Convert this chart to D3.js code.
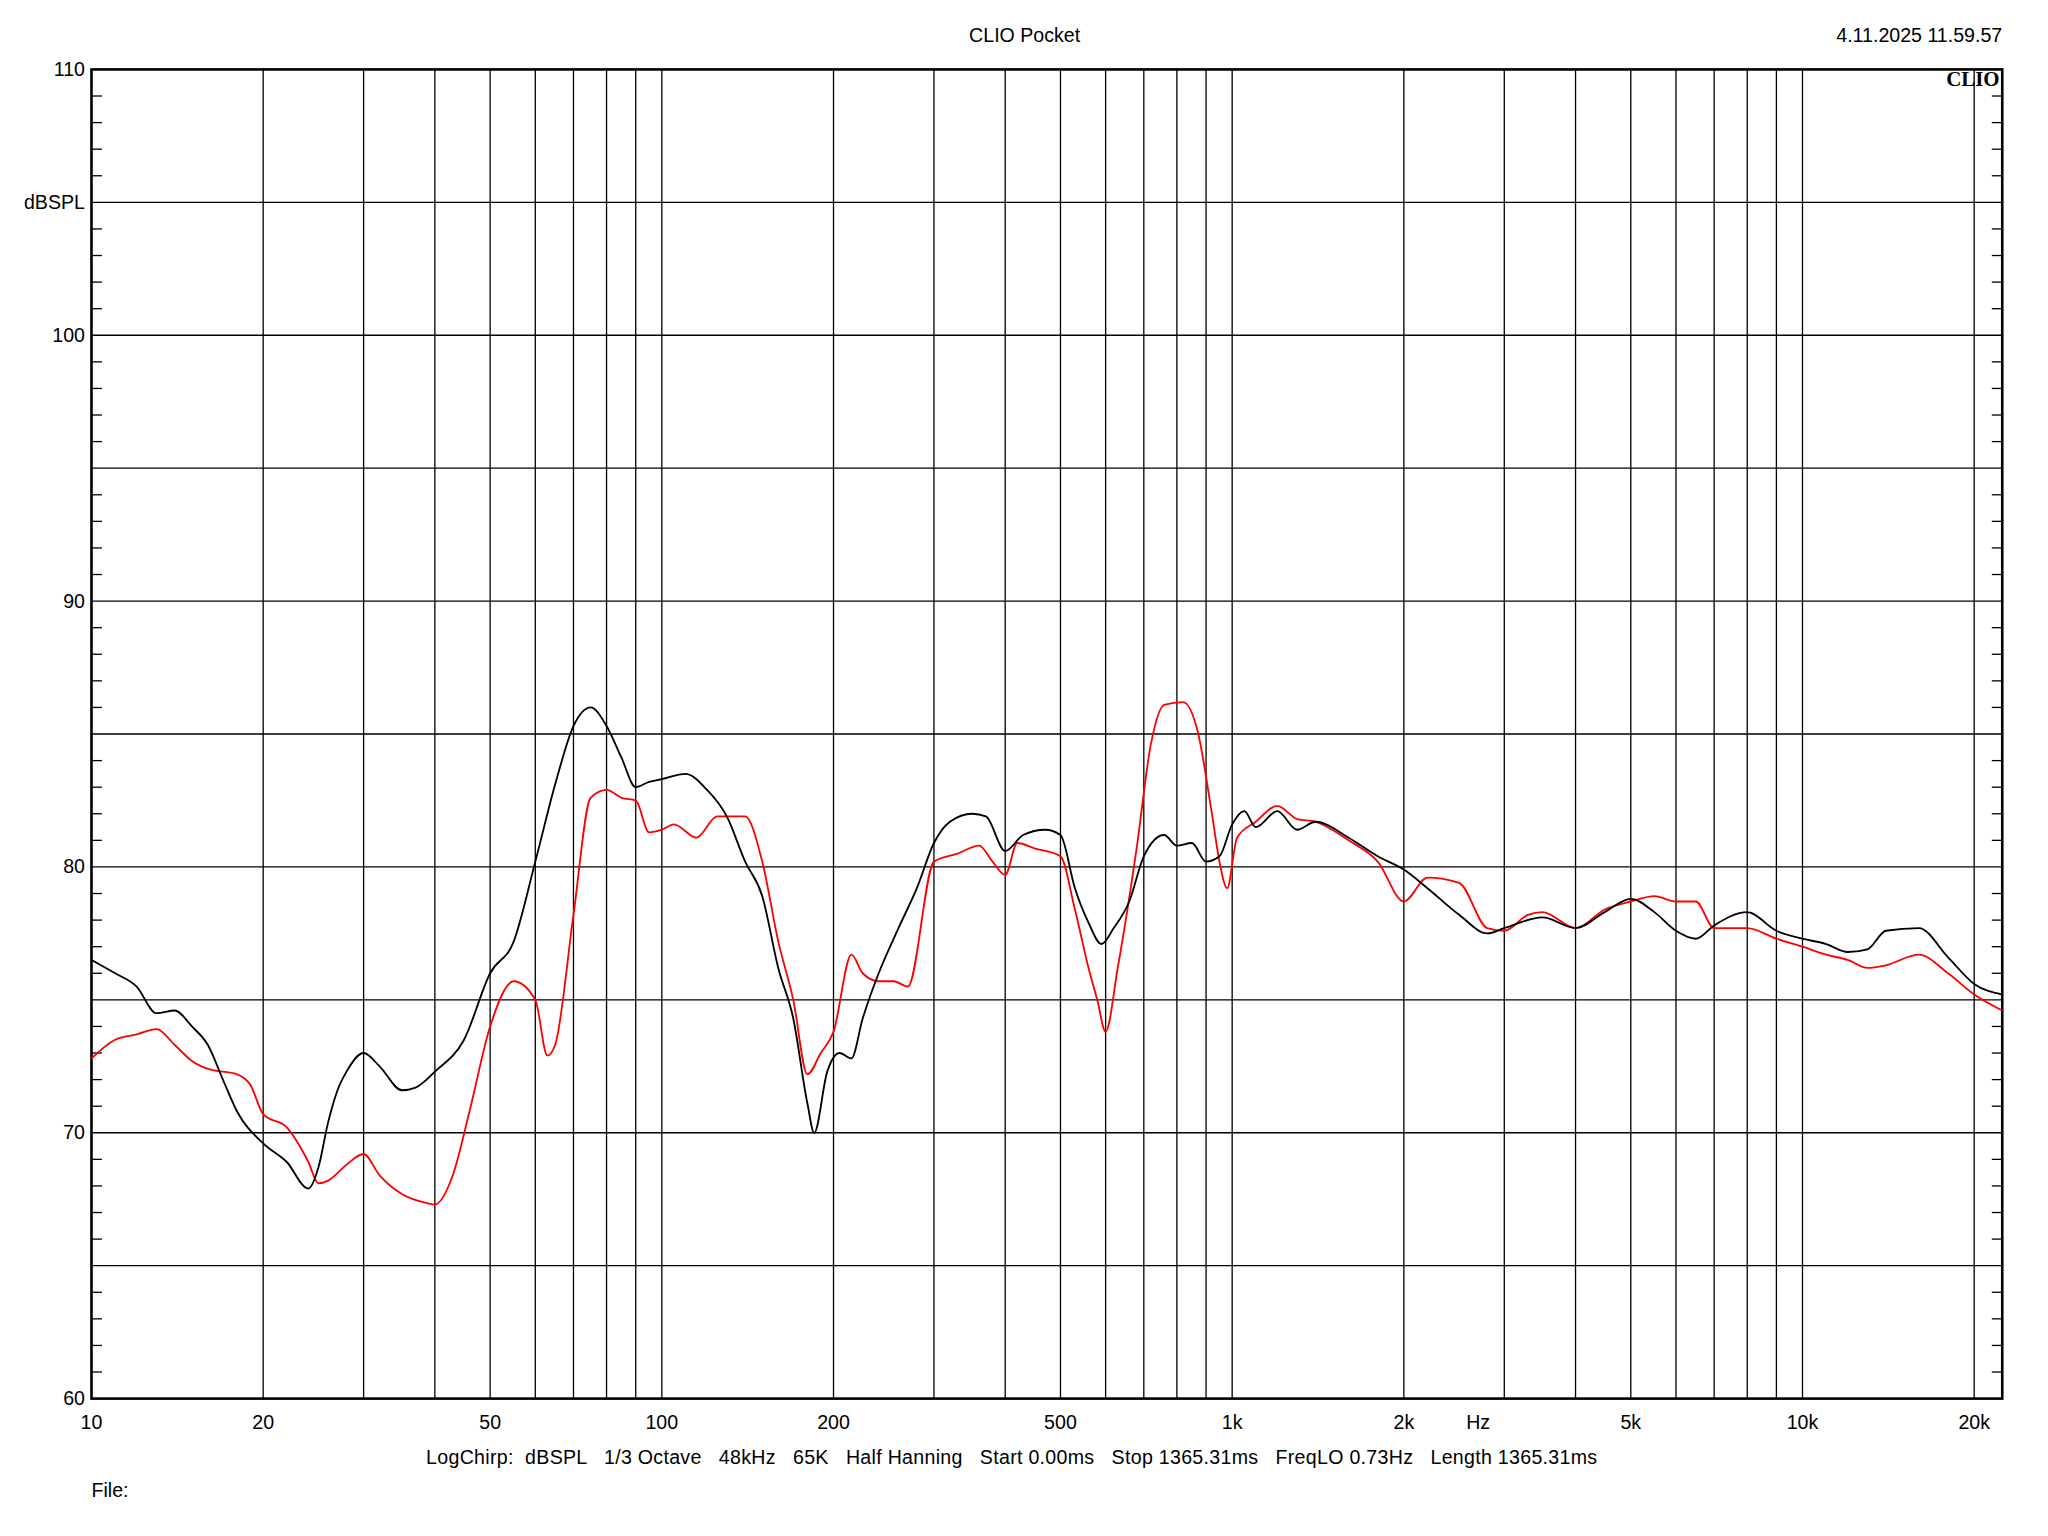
<!DOCTYPE html>
<html><head><meta charset="utf-8">
<script src="https://cdn.jsdelivr.net/npm/d3@7"></script>
<style>body{margin:0;background:#fff}text{font-family:"Liberation Sans",Arial,sans-serif;fill:#000}</style>
</head><body>
<svg id="chart" width="2048" height="1536" viewBox="0 0 1567 1175"></svg>
<script>
const blackF = [10,11,12,13,14,15,16,17,18,20,22,24,25,26,27,28,30,32,35,37,40,45,50,55,60,65,70,75,80,85,90,95,100,110,120,130,140,150,160,170,180,185,195,205,215,225,240,260,280,300,320,350,370,400,430,470,500,530,560,590,620,660,700,760,800,850,900,950,1000,1050,1100,1200,1300,1400,1600,1800,2000,2200,2500,2800,3000,3500,4000,4500,5000,5500,6000,6500,7000,8000,9000,10000,11000,12000,13000,14000,16000,18000,20000,22400];
const blackDb = [76.5,76.0,75.5,74.5,74.6,74.0,73.3,72.0,70.8,69.6,68.9,67.9,68.7,70.4,71.6,72.3,73.0,72.5,71.6,71.7,72.3,73.5,76.0,77.2,80.2,83.1,85.3,86.0,85.3,84.1,83.0,83.2,83.3,83.5,82.9,81.9,80.2,78.9,76.2,74.3,71.1,70.0,72.3,73.0,72.8,74.3,76.0,77.7,79.2,80.9,81.7,82.0,81.9,80.6,81.2,81.4,81.2,79.2,77.9,77.1,77.7,78.7,80.4,81.2,80.8,80.9,80.2,80.4,81.6,82.1,81.5,82.1,81.4,81.7,81.1,80.4,79.9,79.2,78.2,77.5,77.7,78.1,77.7,78.3,78.8,78.3,77.6,77.3,77.8,78.3,77.6,77.3,77.1,76.8,76.9,77.6,77.7,76.6,75.6,75.2];
const redF = [10,11,12,13,14,15,16,18,19,20,22,24,25,26,28,30,32,35,38,40,43,46,50,55,60,63,65,70,75,80,85,90,95,100,105,115,125,140,150,160,170,180,190,200,215,225,240,255,270,300,330,360,380,400,420,450,500,530,560,580,600,630,680,720,760,820,870,920,950,980,1020,1100,1200,1300,1400,1600,1800,2000,2200,2500,2800,3000,3300,3500,4000,4500,5000,5500,6000,6500,7000,8000,9000,10000,11000,12000,13000,14000,16000,18000,20000,22400];
const redDb = [72.8,73.5,73.7,73.9,73.3,72.7,72.4,72.2,71.8,70.7,70.2,68.9,68.1,68.2,68.8,69.2,68.4,67.7,67.4,67.3,68.4,70.8,74.0,75.7,75.0,72.9,73.3,78.2,82.6,82.9,82.6,82.5,81.3,81.4,81.6,81.1,81.9,81.9,80.2,77.2,75.0,72.2,73.0,73.8,76.7,76.0,75.7,75.7,75.5,80.2,80.5,80.8,80.2,79.7,80.9,80.7,80.4,78.4,76.2,75.0,73.8,76.2,80.7,84.6,86.1,86.2,85.1,82.1,80.2,79.2,81.1,81.7,82.3,81.8,81.7,81.0,80.2,78.7,79.6,79.4,77.7,77.6,78.2,78.3,77.7,78.4,78.7,78.9,78.7,78.7,77.7,77.7,77.3,77.0,76.7,76.5,76.2,76.3,76.7,76.0,75.2,74.6];
const xTickVals = [10,20,50,100,200,500,1000,2000,5000,10000,20000];
const xTickLabels = ["10","20","50","100","200","500","1k","2k","5k","10k","20k"];
const yLabelVals = [60,70,80,90,100,110];

const svg = d3.select("#chart");
const L = 70, R = 1532, T = 53, B = 1070;
const x = d3.scaleLog().domain([10, 22400]).range([L, R]);
const y = d3.scaleLinear().domain([60, 110]).range([B, T]);

// vertical grid: 2..10 in each decade
const vGrid = [];
[10,100,1000,10000].forEach(d => { for (let k = 2; k <= 10; k++) if (d*k < 22400) vGrid.push(d*k); });
svg.selectAll(".vg").data(vGrid).enter().append("line")
  .attr("x1", d => x(d)).attr("x2", d => x(d)).attr("y1", T).attr("y2", B)
  .attr("stroke", "#000").attr("stroke-width", 1);
svg.selectAll(".hg").data(d3.range(65, 110, 5)).enter().append("line")
  .attr("x1", L).attr("x2", R).attr("y1", d => y(d)).attr("y2", d => y(d))
  .attr("stroke", "#000").attr("stroke-width", 1);
// 1 dB ticks on both sides
const minor = d3.range(61, 110).filter(d => d % 5 !== 0);
svg.selectAll(".tl").data(minor).enter().append("line")
  .attr("x1", L).attr("x2", L + 8).attr("y1", d => y(d)).attr("y2", d => y(d)).attr("stroke", "#000");
svg.selectAll(".tr").data(minor).enter().append("line")
  .attr("x1", R - 8).attr("x2", R).attr("y1", d => y(d)).attr("y2", d => y(d)).attr("stroke", "#000");

svg.append("rect").attr("x", L).attr("y", T).attr("width", R - L).attr("height", B - T)
  .attr("fill", "none").attr("stroke", "#000").attr("stroke-width", 2);

const line = d3.line().x(d => x(d[0])).y(d => y(d[1])).curve(d3.curveMonotoneX);
svg.append("path").datum(d3.zip(redF, redDb)).attr("d", line)
  .attr("fill", "none").attr("stroke", "#ff0000").attr("stroke-width", 1.4);
svg.append("path").datum(d3.zip(blackF, blackDb)).attr("d", line)
  .attr("fill", "none").attr("stroke", "#000").attr("stroke-width", 1.4);

// labels
svg.selectAll(".xl").data(xTickVals).enter().append("text")
  .attr("x", d => x(d)).attr("y", 1093).attr("text-anchor", "middle").attr("font-size", 15)
  .text((d, i) => xTickLabels[i]);
svg.append("text").attr("x", 1131).attr("y", 1093).attr("text-anchor", "middle").attr("font-size", 15).text("Hz");
svg.selectAll(".yl").data(yLabelVals).enter().append("text")
  .attr("x", 65).attr("y", d => y(d) + 5).attr("text-anchor", "end").attr("font-size", 15).text(d => d);
svg.append("text").attr("x", 65).attr("y", y(105) + 5).attr("text-anchor", "end").attr("font-size", 15).text("dBSPL");

svg.append("text").attr("x", 784).attr("y", 32).attr("text-anchor", "middle").attr("font-size", 15).text("CLIO Pocket");
svg.append("text").attr("x", 1532).attr("y", 32).attr("text-anchor", "end").attr("font-size", 15).text("4.11.2025 11.59.57");
svg.append("text").attr("x", 1530).attr("y", 66).attr("text-anchor", "end").attr("font-size", 16)
  .attr("font-weight", "bold").style("font-family", "'Liberation Serif','DejaVu Serif',serif").text("CLIO");
svg.append("text").attr("x", 774).attr("y", 1120).attr("text-anchor", "middle").attr("font-size", 15)
  .attr("xml:space", "preserve").attr("textLength", 896).attr("lengthAdjust", "spacing")
  .text("LogChirp:  dBSPL   1/3 Octave   48kHz   65K   Half Hanning   Start 0.00ms   Stop 1365.31ms   FreqLO 0.73Hz   Length 1365.31ms");
svg.append("text").attr("x", 70).attr("y", 1145).attr("font-size", 15).text("File:");
</script>
</body></html>
